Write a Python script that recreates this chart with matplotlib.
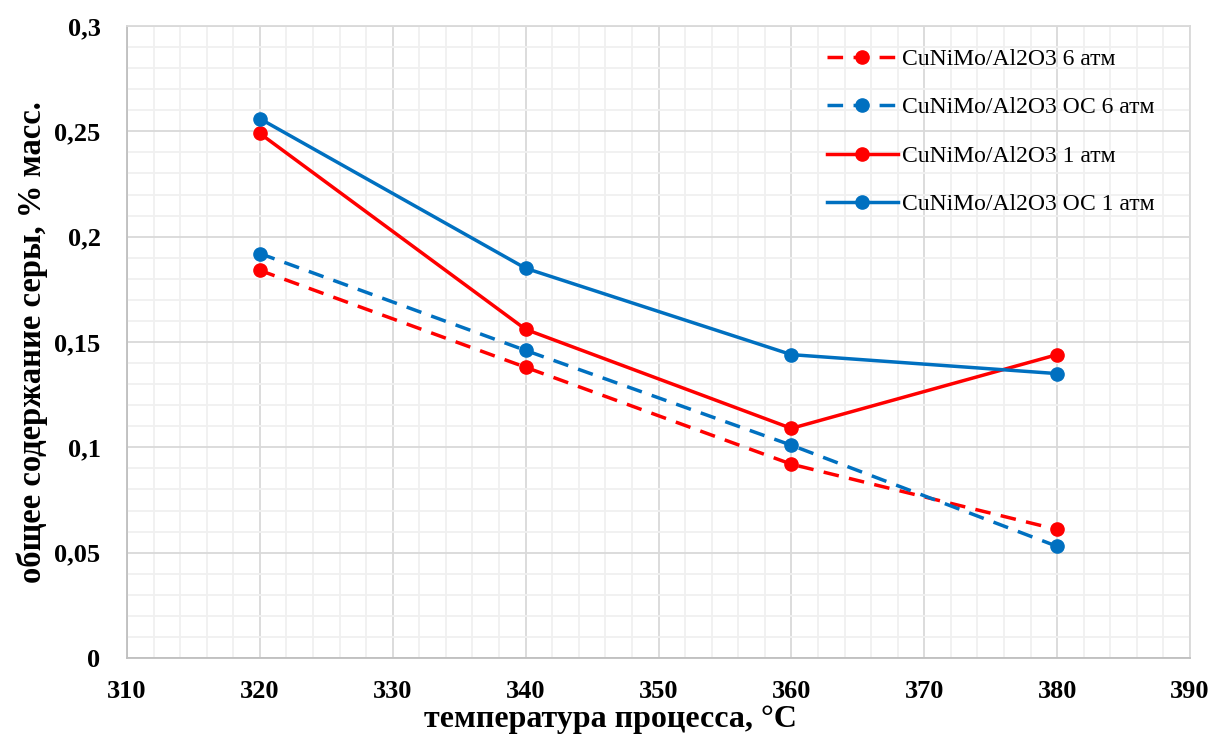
import matplotlib
matplotlib.use("Agg")
import matplotlib.pyplot as plt
from matplotlib.ticker import MultipleLocator, FuncFormatter

temps = [320, 340, 360, 380]
s_6atm = [0.184, 0.138, 0.092, 0.061]
s_oc_6atm = [0.192, 0.146, 0.101, 0.053]
s_1atm = [0.249, 0.156, 0.109, 0.144]
s_oc_1atm = [0.256, 0.185, 0.144, 0.135]

labels = ["CuNiMo/Al2O3 6 атм", "CuNiMo/Al2O3 ОС 6 атм",
          "CuNiMo/Al2O3 1 атм", "CuNiMo/Al2O3 ОС 1 атм"]
xlabel = "температура процесса, °С"
ylabel = "общее содержание серы, % масс."

RED = "#FF0000"
BLUE = "#0070C0"

plt.rcParams['font.family'] = ['Liberation Serif', 'DejaVu Serif']

fig = plt.figure(figsize=(12.13, 7.36), dpi=100)
ax = fig.add_axes([127/1213, 1-658/736, (1190-127)/1213, (658-26)/736])

dash = (0, (4.5, 3.0))
lw = 2.5
ms = 9.5
ax.plot(temps, s_6atm, color=RED, lw=lw, ls=dash, marker='o', ms=ms, label=labels[0], zorder=3)
ax.plot(temps, s_oc_6atm, color=BLUE, lw=lw, ls=dash, marker='o', ms=ms, label=labels[1], zorder=3)
ax.plot(temps, s_1atm, color=RED, lw=lw, marker='o', ms=ms, label=labels[2], zorder=3)
ax.plot(temps, s_oc_1atm, color=BLUE, lw=lw, marker='o', ms=ms, label=labels[3], zorder=3)

ax.set_xlim(310, 390)
ax.set_ylim(0, 0.3)
ax.xaxis.set_major_locator(MultipleLocator(10))
ax.xaxis.set_minor_locator(MultipleLocator(2))
ax.yaxis.set_major_locator(MultipleLocator(0.05))
ax.yaxis.set_minor_locator(MultipleLocator(0.01))

def yfmt(v, pos):
    s = ("%.2f" % v).rstrip('0').rstrip('.')
    return s.replace('.', ',')
ax.yaxis.set_major_formatter(FuncFormatter(yfmt))

ax.grid(which='major', color='#d9d9d9', lw=1.3, zorder=0)
ax.grid(which='minor', color='#f0f0f0', lw=1.3, zorder=0)
ax.set_axisbelow(True)
for sp in ax.spines.values():
    sp.set_color('#d9d9d9')
    sp.set_linewidth(1.3)
ax.spines['left'].set_color('#bfbfbf')
ax.spines['bottom'].set_color('#bfbfbf')

ax.tick_params(which='both', length=0)
ax.tick_params(axis='x', pad=16, labelsize=19)
ax.tick_params(axis='y', pad=19, labelsize=19)
for t in ax.get_xticklabels() + ax.get_yticklabels():
    t.set_fontweight('bold')

ax.set_xlabel(xlabel, fontsize=23, fontweight='bold', labelpad=2)
ax.xaxis.set_label_coords((610 - 127) / 1063, -0.075)
ax.set_ylabel(ylabel, fontsize=23.5, fontweight='bold', labelpad=4.5)

leg = ax.legend(loc='upper right', bbox_to_anchor=(0.987, 0.998), frameon=False,
                fontsize=17, labelspacing=1.14, handlelength=3.0, handletextpad=0.2)

fig.savefig("out.png", dpi=100)
